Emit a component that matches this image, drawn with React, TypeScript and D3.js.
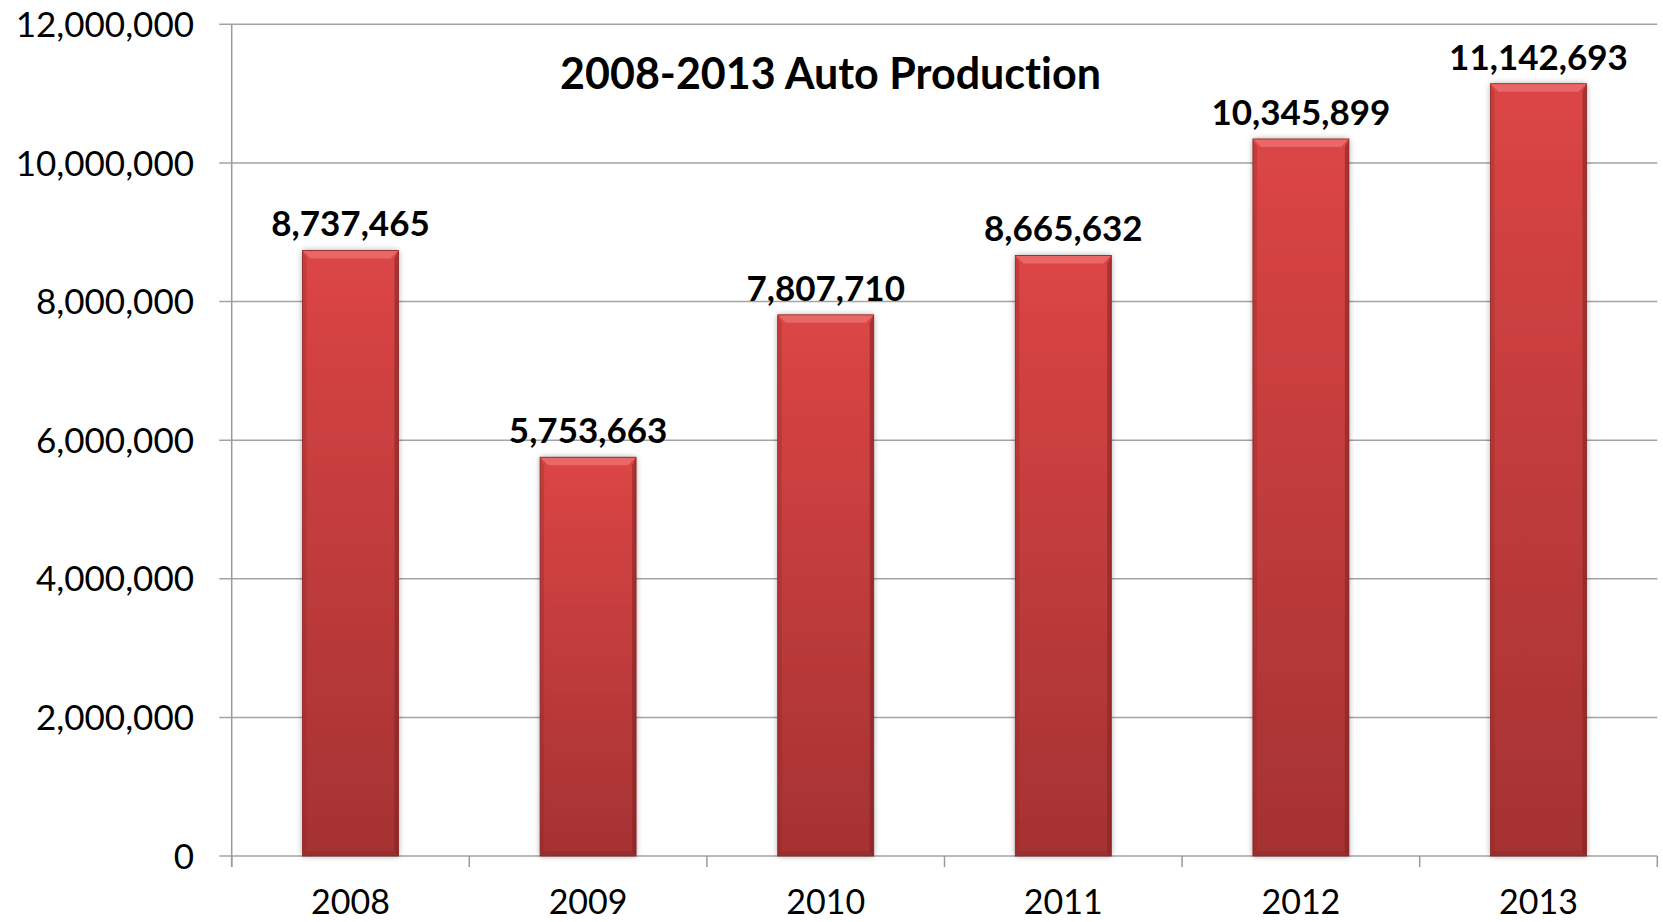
import React from "react";
import * as d3 from "d3";

const categories: string[] = ["2008", "2009", "2010", "2011", "2012", "2013"];
const production: number[] = [8737465, 5753663, 7807710, 8665632, 10345899, 11142693];
const yTicks: number[] = [0, 2000000, 4000000, 6000000, 8000000, 10000000, 12000000];
const title = "2008-2013 Auto Production";

const W = 1663;
const H = 922;
const plotLeft = 231.7;
const plotRight = 1657.3;
const plotTop = 24.3;
const plotBottom = 856;

const FONT = "Lato, 'Open Sans', 'Liberation Sans', sans-serif";
const noLig: React.CSSProperties = { fontVariantLigatures: "none", fontFeatureSettings: "'liga' 0" };

export default function App() {
  const x = d3
    .scaleBand<string>()
    .domain(categories)
    .range([plotLeft, plotRight])
    .paddingInner(0.596)
    .paddingOuter(0.298);
  const y = d3.scaleLinear().domain([0, 12000000]).range([plotBottom, plotTop]);
  const fmt = d3.format(",");
  const step = x.step();
  const b = 8;

  return (
    <svg
      width={W}
      height={H}
      style={{ position: "absolute", left: 0, top: 0, display: "block", background: "#fff" }}
      fontFamily={FONT}
    >
      <defs>
        <linearGradient id="barFill" x1="0" y1="0" x2="0" y2="1" gradientUnits="objectBoundingBox">
          <stop offset="0" stopColor="#dc4545" />
          <stop offset="1" stopColor="#a53232" />
        </linearGradient>
        <filter id="shadow" x="-20%" y="-5%" width="140%" height="110%">
          <feGaussianBlur in="SourceAlpha" stdDeviation="3" />
          <feOffset dx="0" dy="0" result="blur" />
          <feComponentTransfer>
            <feFuncA type="linear" slope="0.35" />
          </feComponentTransfer>
          <feMerge>
            <feMergeNode />
            <feMergeNode in="SourceGraphic" />
          </feMerge>
        </filter>
      </defs>

      {/* gridlines */}
      {yTicks.map((t) => (
        <line
          key={"g" + t}
          x1={plotLeft - 12.5}
          x2={plotRight}
          y1={y(t)}
          y2={y(t)}
          stroke="#a3a3a3"
          strokeWidth={1.5}
        />
      ))}

      {/* y axis line */}
      <line x1={plotLeft} x2={plotLeft} y1={plotTop} y2={plotBottom + 11} stroke="#9a9a9a" strokeWidth={1.5} />

      {/* x axis ticks */}
      {d3.range(categories.length + 1).map((i) => (
        <line
          key={"xt" + i}
          x1={plotLeft + i * step}
          x2={plotLeft + i * step}
          y1={plotBottom}
          y2={plotBottom + 11}
          stroke="#9a9a9a"
          strokeWidth={1.5}
        />
      ))}

      {/* y tick labels */}
      {yTicks.map((t) => (
        <text
          key={"yl" + t}
          x={194}
          y={y(t)}
          dy="0.36em"
          textAnchor="end"
          fontSize={35}
          fill="#000"
        >
          {fmt(t)}
        </text>
      ))}

      {/* x labels */}
      {categories.map((c) => (
        <text
          key={"xl" + c}
          x={(x(c) as number) + x.bandwidth() / 2}
          y={914}
          textAnchor="middle"
          fontSize={34}
          fill="#000"
        >
          {c}
        </text>
      ))}

      {/* bars */}
      {categories.map((c, i) => {
        const x0 = x(c) as number;
        const w = x.bandwidth();
        const x1 = x0 + w;
        const y0 = y(production[i]);
        const y1 = y(0);
        return (
          <g key={"bar" + c}>
            <rect x={x0} y={y0} width={w} height={y1 - y0} fill="url(#barFill)" filter="url(#shadow)" />
            <polygon
              points={`${x0},${y0} ${x1},${y0} ${x1 - b},${y0 + b} ${x0 + b},${y0 + b}`}
              fill="#ea6a6a"
              opacity={0.9}
            />
            <polygon
              points={`${x1},${y0} ${x1},${y1} ${x1 - 4},${y1 - 4} ${x1 - 4},${y0 + b}`}
              fill="#7e2222"
              opacity={0.55}
            />
            <polygon
              points={`${x0},${y0} ${x0},${y1} ${x0 + 4},${y1 - 4} ${x0 + 4},${y0 + b}`}
              fill="#8e2626"
              opacity={0.3}
            />
            <polygon
              points={`${x0},${y1} ${x1},${y1} ${x1 - 4},${y1 - 5} ${x0 + 4},${y1 - 5}`}
              fill="#8a2a2a"
              opacity={0.4}
            />
            <rect x={x0} y={y0} width={w} height={y1 - y0} fill="none" stroke="#8a2424" strokeWidth={0.8} />
          </g>
        );
      })}

      {/* value labels */}
      {categories.map((c, i) => (
        <text
          key={"vl" + c}
          x={(x(c) as number) + x.bandwidth() / 2}
          y={y(production[i]) - 14}
          textAnchor="middle"
          fontSize={35}
          fontWeight="bold"
          fill="#000"
        >
          {fmt(production[i])}
        </text>
      ))}

      {/* title */}
      <text x={830.5} y={89} textAnchor="middle" fontSize={43} fontWeight="bold" fill="#000" style={noLig}>
        {title}
      </text>
    </svg>
  );
}
